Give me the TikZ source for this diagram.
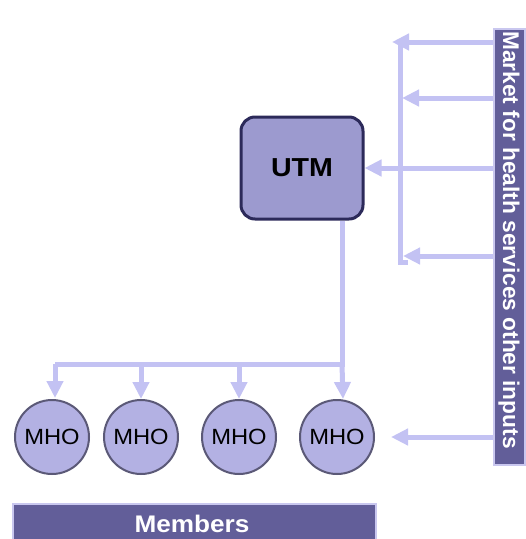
\documentclass[tikz,border=0pt]{standalone}
\usepackage{fontspec}
\setmainfont{Liberation Sans}
\usetikzlibrary{arrows.meta}
\definecolor{barfill}{HTML}{625E99}
\definecolor{barrim}{HTML}{C9C7EF}
\definecolor{flow}{HTML}{C3C2F3}
\definecolor{utmfill}{HTML}{9C9ACF}
\definecolor{utmrim}{HTML}{2C2A5A}
\definecolor{mhofill}{HTML}{B3B1E3}
\definecolor{mhorim}{HTML}{5B5977}
\tikzset{
  flowline/.style={draw=flow, line width=5pt},
  flowarrow/.style={flowline, -{Triangle[length=17pt,width=16pt]}},
  darkbar/.style={fill=barfill, draw=barrim, line width=2pt, text=white, inner sep=0pt},
  utmbox/.style={fill=utmfill, draw=utmrim, line width=3pt, rounded corners=14pt, minimum width=122pt, minimum height=102pt, font=\bfseries\fontsize{26}{26}\selectfont},
  mho/.style={circle, fill=mhofill, draw=mhorim, line width=2pt, minimum size=74pt, inner sep=0pt, font=\fontsize{22}{22}\selectfont}
}
\begin{document}
\begin{tikzpicture}[x=1pt,y=-1pt]
\useasboundingbox (0,0) rectangle (526,539);
\clip (0,0) rectangle (526,539);
% right bar
\node[darkbar, minimum width=31pt, minimum height=436pt] (market) at (509,247) {};
\node[rotate=-90, text=white, font=\bfseries\fontsize{22.7}{22.7}\selectfont] (mtext) at (509,240) {Market for health services other inputs};
% UTM
\node[utmbox] (utm) at (302,168) {\scalebox{1.1}[1]{UTM}};
% MHOs
\node[mho] (m1) at (52,437) {\scalebox{1.08}[1]{MHO}};
\node[mho] (m2) at (141,437) {\scalebox{1.08}[1]{MHO}};
\node[mho] (m3) at (239,437) {\scalebox{1.08}[1]{MHO}};
\node[mho] (m4) at (337,437) {\scalebox{1.08}[1]{MHO}};
% Members
\node[darkbar, minimum width=363pt, minimum height=44pt, anchor=north west] (members) at (12,503) {};
\node[text=white, font=\bfseries\fontsize{24}{24}\selectfont] (mtxt) at (192,524) {\scalebox{1.09}[1]{Members}};
% coordinates
\coordinate (a1) at (392,42);
\coordinate (a2) at (402,98);
\coordinate (a4) at (403,256);
\coordinate (vt) at (400,40);
\coordinate (vb) at (400,262);
\coordinate (split) at (342,364);
\coordinate (left) at (55,364);
% market arrows
\draw[flowline] (vt) -- (vb) -- ++(8,0);
\draw[flowarrow] (market.west |- a1) -- (a1);
\draw[flowarrow] (market.west |- a2) -- (a2);
\draw[flowarrow] (market.west |- utm.east) -- (utm.east);
\draw[flowarrow] (market.west |- a4) -- (a4);
\draw[flowarrow] (market.west |- m4.east) -- ([xshift=16pt]m4.east);
% UTM to MHOs
\draw[flowline] (utm.south -| split) -- (split) -- (left);
\draw[flowarrow] (left) -- ([yshift=1pt]m1.north -| left);
\draw[flowarrow] (split -| m2) -- (m2.north);
\draw[flowarrow] (split -| m3) -- (m3.north);
\draw[flowarrow] (split) -- ([xshift=1pt]m4.north -| split);
\end{tikzpicture}
\end{document}
